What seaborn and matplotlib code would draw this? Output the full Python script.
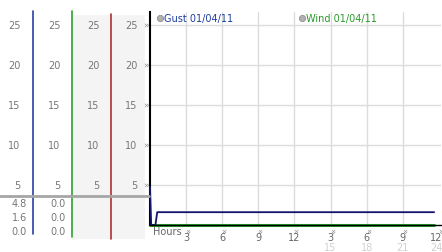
import matplotlib
matplotlib.use("Agg")
import matplotlib.pyplot as plt
import matplotlib.transforms as mtrans
from matplotlib.lines import Line2D
from matplotlib.patches import Rectangle
import seaborn as sns
import pandas as pd

# ---- data ----
gust_hours = [0.0, 0.1, 0.45, 0.6, 23.6]
gust_values = [4.8, 0.0, 0.0, 1.6, 1.6]
wind_hours = [0.0, 23.6]
wind_values = [0.0, 0.0]
y_ticks = [5, 10, 15, 20, 25]
x_ticks = [3, 6, 9, 12, 15, 18, 21, 24]
x_labels_top = ["3", "6", "9", "12", "3", "6", "9", "12"]
x_labels_bottom = ["", "", "", "", "15", "18", "21", "24"]
gust_stats = ["4.8", "1.6", "0.0"]
wind_stats = ["0.0", "0.0", "0.0"]
legend_labels = ["Gust 01/04/11", "Wind 01/04/11"]

sns.set_style("white")
plt.rcParams['font.family'] = ['DejaVu Sans']

W, H = 442, 253
def fx(px): return px / W
def fy(py): return 1 - py / H

fig = plt.figure(figsize=(4.42, 2.53), dpi=100)
fig.patch.set_facecolor("white")

# main axes
ax_left, ax_right = 150, 441
ax_top, ax_bot = 13, 226
ax = fig.add_axes([fx(ax_left), fy(ax_bot), (ax_right - ax_left) / W, (ax_bot - ax_top) / H])
ax.set_xlim(0, 24.17)
ax.set_ylim(0, 26.6)
ax.set_facecolor("white")

for yv in y_ticks:
    ax.axhline(yv, color="#dcdcdc", lw=1, zorder=0)
for xv in x_ticks[:-1]:
    ax.axvline(xv, color="#dcdcdc", lw=1, zorder=0)

gust_df = pd.DataFrame({"h": gust_hours, "v": gust_values})
wind_df = pd.DataFrame({"h": wind_hours, "v": wind_values})
sns.lineplot(data=wind_df, x="h", y="v", ax=ax, color="#2aa02a", lw=2.2, zorder=2,
             estimator=None, sort=False, clip_on=False)
sns.lineplot(data=gust_df, x="h", y="v", ax=ax, color="#14146e", lw=1.3, zorder=4,
             estimator=None, sort=False, clip_on=False)

for s in ["top", "right"]:
    ax.spines[s].set_visible(False)
ax.spines["left"].set_color("black")
ax.spines["left"].set_linewidth(1.5)
ax.spines["bottom"].set_color("black")
ax.spines["bottom"].set_linewidth(1.0)
ax.spines["bottom"].set_zorder(5)
ax.set_xticks([])
ax.set_yticks([])
ax.set_xlabel("")
ax.set_ylabel("")

# x tick marks and labels
bx = mtrans.blended_transform_factory(ax.transData, fig.transFigure)
n = len(x_ticks)
for i, (xv, t1, t2) in enumerate(zip(x_ticks, x_labels_top, x_labels_bottom)):
    ax.text(xv, fy(231), "»", rotation=-90, fontsize=6.5, color="#8a8a8a",
            ha="center", va="center", transform=bx, clip_on=False)
    off = mtrans.offset_copy(bx, fig=fig, x=-2.5 if i == n - 1 else 0, units="dots")
    ax.text(xv, fy(238.5), t1, fontsize=7, color="#666666", ha="center", va="center",
            transform=off, clip_on=False)
    if t2:
        ax.text(xv, fy(248.5), t2, fontsize=7, color="#d0d0d0", ha="center", va="center",
                transform=off, clip_on=False)
fig.text(fx(153), fy(232), "Hours", fontsize=7, color="#666666", ha="left", va="center")

# y tick marks on main axis
by = mtrans.blended_transform_factory(fig.transFigure, ax.transData)
for yv in y_ticks:
    ax.text(fx(145.5), yv, "»", fontsize=6.5, color="#8a8a8a", ha="center", va="center",
            transform=by, clip_on=False)

# legend
for (lx, tx, label, col) in [(160, 164, legend_labels[0], "#1c3c9c"),
                             (302, 306, legend_labels[1], "#2a9a2a")]:
    fig.add_artist(Line2D([fx(lx)], [fy(19)], marker="o", markersize=4.5,
                          markerfacecolor="#b0b0b0", markeredgecolor="#909090",
                          markeredgewidth=0.6, linestyle="none"))
    fig.text(fx(tx), fy(19), label, fontsize=7, color=col, ha="left", va="center")

# left panel backgrounds
fig.add_artist(Rectangle((fx(73), fy(240)), (145 - 73) / W, (240 - 16) / H,
                         transform=fig.transFigure, facecolor="#f4f4f4",
                         edgecolor="none", zorder=0))

# column tick labels via main y scale
col_right = [20.5, 60.5, 99.5, 137.5]
for cr in col_right:
    for yv in y_ticks:
        ax.text(fx(cr), yv, str(yv), fontsize=7, color="#777777", ha="right", va="center",
                transform=by, clip_on=False)

# colored column separators
for x0, y0, y1, col in [(33, 12, 235, "#2a3f9f"), (72, 12, 238, "#2aa02a"),
                        (111, 15, 240, "#b03030")]:
    fig.add_artist(Line2D([fx(x0), fx(x0)], [fy(y0), fy(y1)], color=col, lw=1.2,
                          transform=fig.transFigure))

# gray separator line
fig.add_artist(Line2D([0, fx(149)], [fy(197), fy(197)], color="#a6a6a6", lw=2,
                      transform=fig.transFigure, zorder=3))

# stats
for i, (g, w) in enumerate(zip(gust_stats, wind_stats)):
    yy = fy(204 + 14 * i)
    fig.text(fx(27), yy, g, fontsize=7, color="#777777", ha="right", va="center")
    fig.text(fx(66), yy, w, fontsize=7, color="#777777", ha="right", va="center")

fig.savefig("out.png", dpi=100, facecolor="white")
